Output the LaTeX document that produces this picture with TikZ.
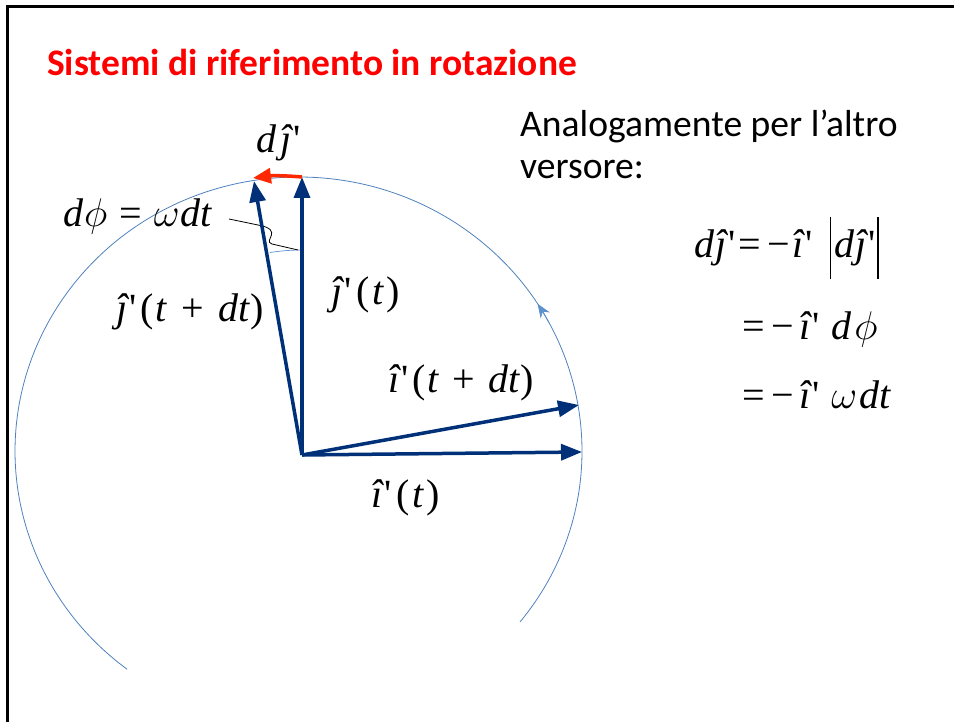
\RequirePackage{fix-cm}
\documentclass[tikz,border=0pt]{standalone}
\usepackage{fontspec}
\setmainfont{Liberation Serif}
\newfontfamily\calib{Carlito}
\usetikzlibrary{arrows.meta,calc}
\definecolor{navy}{RGB}{0,48,120}
\definecolor{circ}{RGB}{79,129,189}
\definecolor{lblue}{RGB}{91,145,205}
\definecolor{redarr}{RGB}{255,40,0}
\newcommand\pr{\textup{\textquotesingle}}
\newcommand\lp{\textup{(}}
\newcommand\rp{\textup{)}}
\newcommand\vbarx{\rule[-21pt]{1.3pt}{62pt}}
\tikzset{
  vec/.style={navy, line width=3.5pt, -{Triangle[length=21pt,width=16pt]}},
  mth/.style={font=\fontsize{40}{48}\selectfont\itshape, inner sep=0pt, anchor=base west},
  txt/.style={font=\fontsize{37.6}{44}\selectfont\calib, inner sep=0pt, anchor=base west},
}
\begin{document}
\begin{tikzpicture}[x=1pt,y=1pt]
\useasboundingbox (0,0) rectangle (954,-722);
\draw[line width=3pt] (7,-722) -- (7,-7) -- (954,-7);
\node[font=\fontsize{37.5}{44}\selectfont\calib\bfseries, text=red, inner sep=0pt, anchor=base west] (title) at (47,-76) {Sistemi di riferimento in rotazione};
\coordinate (O) at (302,-455);
\coordinate (C) at (298.5,-451);
% circle (slightly elliptical arc)
\draw[circ, line width=0.8pt] ($(C)+(-38.6:283.5 and 274)$) arc[start angle=-38.6, end angle=232.8, x radius=283.5, y radius=274];
\draw[lblue, line width=0.8pt, -{Stealth[length=14pt,width=11pt]}] ($(C)+(28:283.5 and 274)$) arc[start angle=28, end angle=32.5, x radius=283.5, y radius=274];
% small angle arc
\draw[lblue, line width=0.7pt] ($(O)+(90:205)$) arc (90:99:205);
% leader line
\draw[line width=0.8pt] (229,-219) -- (258,-225) .. controls (285,-230) and (262,-241) .. (272,-244) -- (298,-250);
% vectors
\coordinate (jt) at (302,-177);
\coordinate (jdt) at (254,-181);
\coordinate (it) at (582,-452);
\coordinate (idt) at (579,-405);
\coordinate (rtip) at (253,-178);
\draw[vec] (O) -- (it);
\draw[vec] (O) -- (idt);
\draw[vec] (O) -- (jt);
\draw[vec] (O) -- (jdt);
\draw[redarr, line width=3.5pt, -{Triangle[length=18pt,width=15pt]}] (jt) to[bend right=6] (rtip);
% labels
\node[mth] (ldj) at (256,-153) {d\kern4ptĵ\pr};
\node[mth] (ldphi) at (63,-227) {d\kern1pt$\phi$\kern12pt\textup{=}\kern12pt$\omega$\kern1pt dt};
\node[mth] (ljt) at (331,-305) {ĵ\pr\kern5pt\lp\kern3pt t\kern3pt\rp};
\node[mth] (ljdt) at (116,-322) {ĵ\pr\kern4pt\lp\kern2pt t\kern15pt\textup{+}\kern14pt dt\kern1pt\rp};
\node[mth] (lidt) at (388,-392) {î\pr\kern4pt\lp\kern2pt t\kern14pt\textup{+}\kern13pt dt\rp};
\node[mth] (lit) at (371,-507) {î\pr\kern5pt\lp\kern3pt t\kern3pt\rp};
\node[txt] (t1) at (520,-137) {Analogamente per l’altro};
\node[txt] (t2) at (520,-179) {versore:};
\node[mth] (e1) at (694,-258) {d\kern1ptĵ\pr\kern3pt\textup{=}\kern6pt\textup{−}\kern3ptî\pr\kern17pt\vbarx\kern3pt d\kern1ptĵ\pr\kern2pt\vbarx};
\node[mth] (e2) at (742,-340) {\textup{=}\kern7pt\textup{−}\kern5ptî\pr\kern12pt d\kern3pt$\phi$};
\node[mth] (e3) at (742,-408) {\textup{=}\kern7pt\textup{−}\kern5ptî\pr\kern12pt$\omega$\kern2pt dt};
\end{tikzpicture}
\end{document}
